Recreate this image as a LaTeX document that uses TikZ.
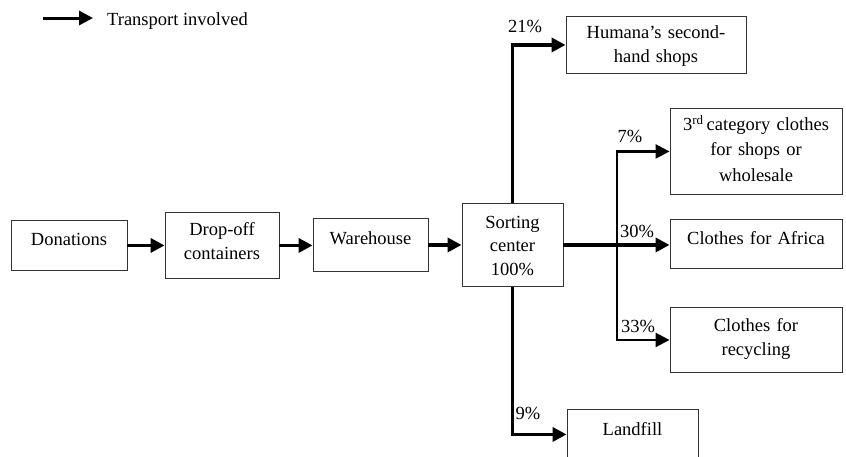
\documentclass[tikz,border=0pt]{standalone}
\usepackage{fontspec}
\setmainfont{Liberation Serif}
\usetikzlibrary{arrows.meta}
\begin{document}
\begin{tikzpicture}[x=1pt,y=-1pt,
  box/.style={draw=black!80, line width=0.9pt, inner sep=0pt, anchor=north,
    align=center, font=\fontsize{18.5}{24.5}\selectfont},
  flow/.style={line width=3.5pt, -{Triangle[length=14pt,width=14pt]}},
  branch/.style={line width=2.4pt, -{Triangle[length=14pt,width=14pt]}},
  pct/.style={anchor=base, inner sep=0pt, font=\fontsize{18.5}{22}\selectfont}]
\clip (0,0) rectangle (846,456);

% legend
\coordinate (legA) at (43,18);
\coordinate (legB) at (93,18);
\draw[flow, line width=3pt] (legA) -- (legB);
\node[pct, anchor=base west] (legtxt) at (107,25) {Transport involved};

% main chain
\node[box, text width=116pt, text height=25pt, text depth=25pt] (don) at (69,220) {Donations};
\node[box, text width=114pt, text height=23pt, text depth=43pt] (drop) at (222,212) {Drop-off\\containers};
\node[box, text width=115pt, text height=26pt, text depth=27pt] (ware) at (370.5,218) {Warehouse};
\node[box, text width=101pt, text height=25pt, text depth=58pt, font=\fontsize{18.5}{23.5}\selectfont] (sort) at (512.5,203) {Sorting\\center\\100\%};

% destinations
\node[box, text width=180pt, text height=22pt, text depth=35pt] (hum) at (656,16) {Humana’s second-\\hand shops};
\node[box, text width=172pt, text height=22pt, text depth=64pt, font=\fontsize{18.5}{25.5}\selectfont] (cat3) at (756,108) {3\textsuperscript{rd}\,category clothes\\for shops or\\wholesale};
\node[box, text width=172pt, text height=25pt, text depth=24pt] (afr) at (756,219) {Clothes for Africa};
\node[box, text width=172pt, text height=24pt, text depth=41pt] (rec) at (756,307) {Clothes for\\recycling};
\node[box, text width=131pt, text height=26pt, text depth=24pt] (land) at (632.5,409) {Landfill};

% connectors
\draw[flow] (don.east) -- (don.east -| drop.west);
\draw[flow] (drop.east) -- (drop.east -| ware.west);
\draw[flow] (ware.east) -- (ware.east -| sort.west);
\draw[flow] (sort.north) |- (hum.west);
\draw[flow] (sort.east) -- (sort.east -| afr.west);
\draw[flow] (sort.south) |- (land.west);
\coordinate (br) at (617,244.5);
\draw[branch] (br) |- (cat3.west);
\draw[branch] (br) |- (rec.west);

% shares
\node[pct] (p21) at (525,32) {21\%};
\node[pct] (p7) at (630,142) {7\%};
\node[pct] (p30) at (637,237) {30\%};
\node[pct] (p33) at (638,332) {33\%};
\node[pct] (p9) at (528,419) {9\%};
\end{tikzpicture}
\end{document}
